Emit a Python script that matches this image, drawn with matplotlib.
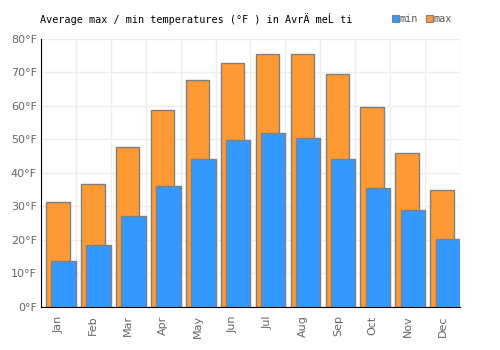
import matplotlib
matplotlib.use("Agg")
import matplotlib.pyplot as plt
import numpy as np
from matplotlib.patches import Rectangle

months = ["Jan", "Feb", "Mar", "Apr", "May", "Jun", "Jul", "Aug", "Sep", "Oct", "Nov", "Dec"]
t_max = [31.3, 36.6, 47.8, 58.8, 67.6, 72.8, 75.4, 75.4, 69.5, 59.6, 45.9, 34.9]
t_min = [13.7, 18.4, 27.1, 36.0, 44.2, 49.9, 51.9, 50.4, 44.2, 35.5, 29.0, 20.3]
y_ticks = [0, 10, 20, 30, 40, 50, 60, 70, 80]
y_labels = [f"{v}°F" for v in y_ticks]

c_min = "#3399ff"
c_max = "#ff9933"
edge = "#808080"

fig = plt.figure(figsize=(5, 3.5), dpi=100)
ax = fig.add_axes([0.082, 0.123, 0.838, 0.766])

x = np.arange(len(months))
ax.bar(x - 0.5 + 0.15, t_max, width=0.67, align="edge", color=c_max,
       edgecolor=edge, linewidth=1, zorder=2)
ax.bar(x - 0.5 + 0.30, t_min, width=0.70, align="edge", color=c_min,
       edgecolor=edge, linewidth=1, zorder=3)

ax.set_xlim(-0.5, len(months) - 0.5)
ax.set_ylim(0, 80)
ax.set_yticks(y_ticks)
ax.set_yticklabels(y_labels, color="#666666", fontsize=8, family="DejaVu Sans")
ax.set_xticks(x)
ax.set_xticklabels(months, rotation=90, color="#666666", fontsize=8, family="DejaVu Sans")
ax.set_xticks(np.arange(len(months) + 1) - 0.5, minor=True)
ax.tick_params(axis="x", which="both", length=0, pad=6)
ax.tick_params(axis="y", length=0, pad=3)
ax.grid(False)
ax.xaxis.grid(True, which="minor", color="#eeeeee", linewidth=1, zorder=0)
ax.yaxis.grid(True, which="major", color="#eeeeee", linewidth=1, zorder=0)
ax.set_axisbelow(True)
for s in ["top", "right"]:
    ax.spines[s].set_visible(False)
ax.spines["left"].set_color("black")
ax.spines["bottom"].set_color("black")
ax.spines["left"].set_zorder(5)
ax.spines["bottom"].set_zorder(5)

fig.text(0.079, 0.945, "Average max / min temperatures (°F ) in AvrÄ meĹ ti",
         family="DejaVu Sans Mono", fontsize=7.3, color="black", va="center")

# legend
fig.patches.append(Rectangle((0.783, 0.937), 0.014, 0.02, transform=fig.transFigure,
                             facecolor=c_min, edgecolor=edge, linewidth=0.8))
fig.text(0.799, 0.945, "min", family="DejaVu Sans Mono", fontsize=7.3, color="#555555", va="center")
fig.patches.append(Rectangle((0.851, 0.937), 0.014, 0.02, transform=fig.transFigure,
                             facecolor=c_max, edgecolor=edge, linewidth=0.8))
fig.text(0.867, 0.945, "max", family="DejaVu Sans Mono", fontsize=7.3, color="#555555", va="center")

fig.savefig("out.png", dpi=100)
